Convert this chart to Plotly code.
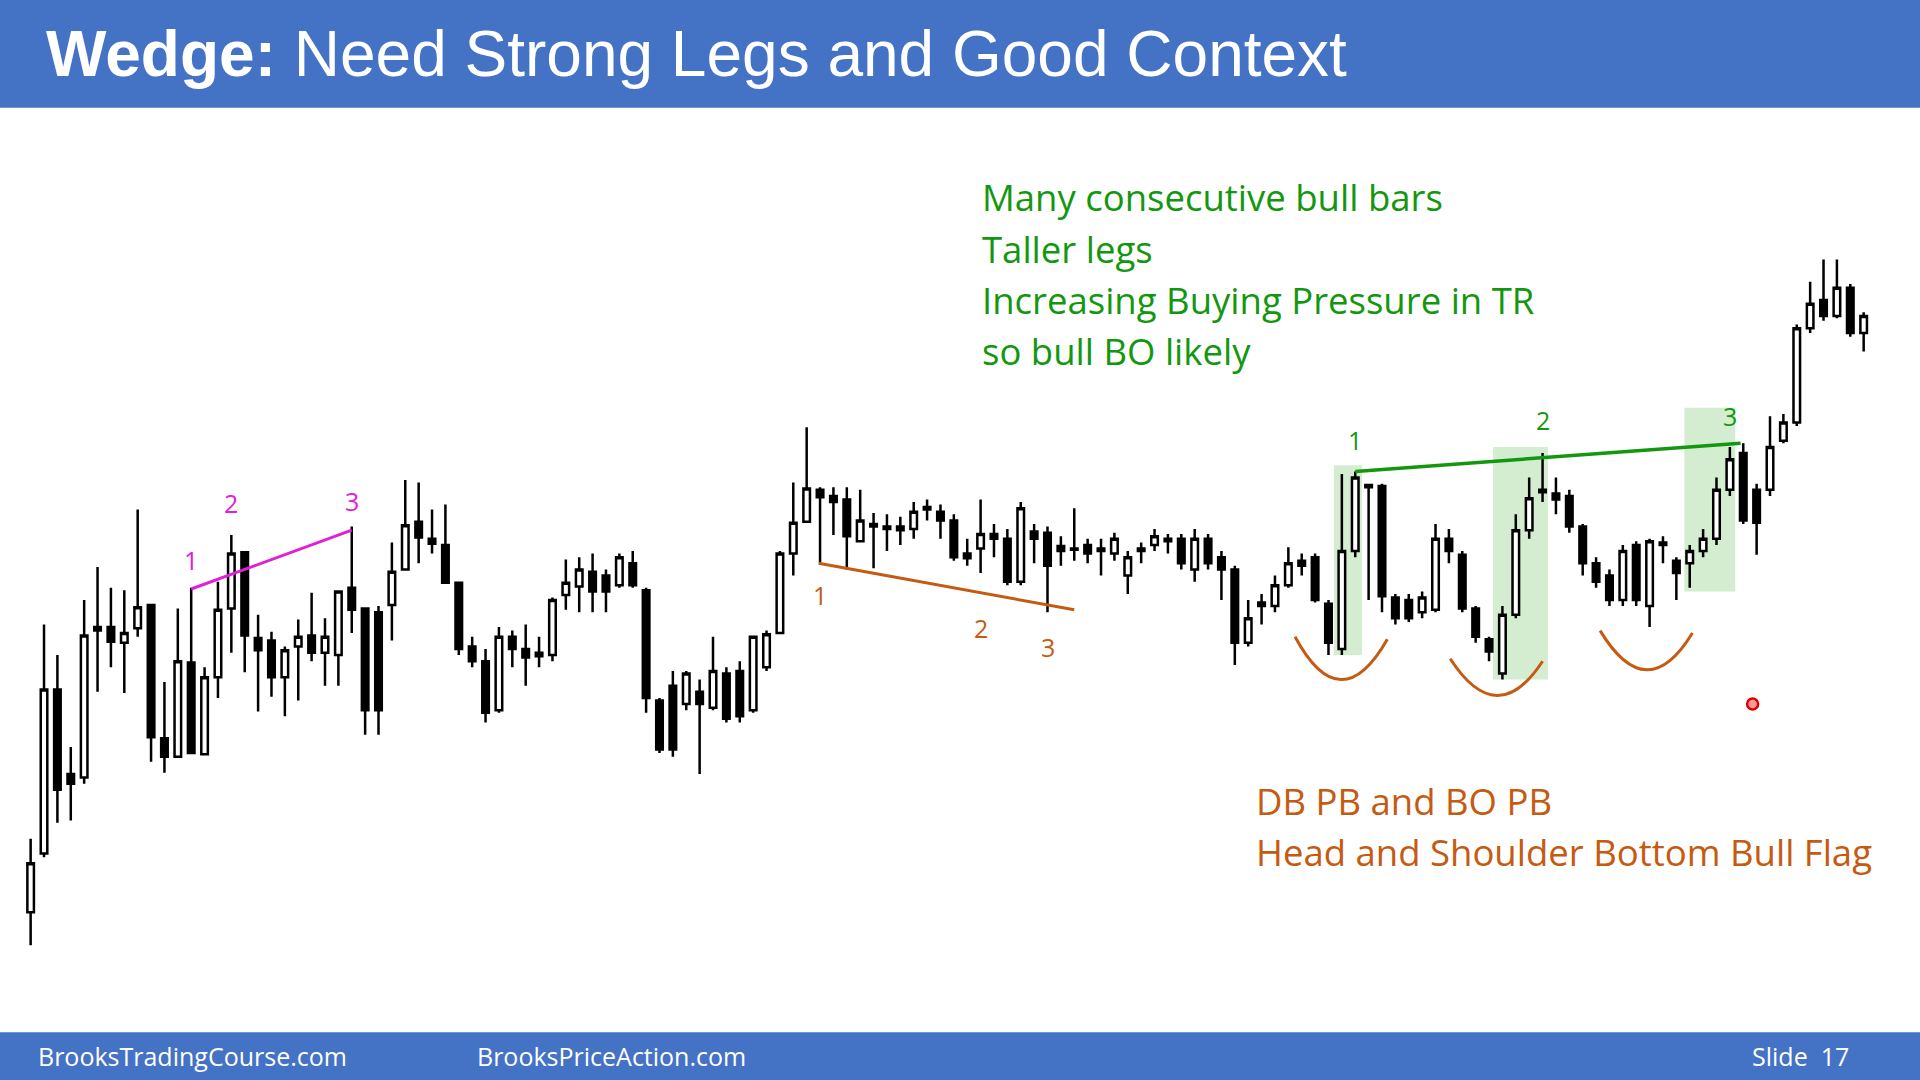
import plotly.graph_objects as go

# bar prices (arbitrary price units)
opens = [55, 103, 237, 168, 165, 285, 288, 275, 287, 306, 197, 182, 259, 184, 247, 303, 349, 279, 277, 247,
         272, 281, 267, 265, 320, 303, 300, 306, 335, 374, 360, 355, 324, 272, 260, 220, 280, 270, 267, 265,
         314, 321, 333, 330, 322, 340, 318, 228, 240, 225, 235, 222, 250, 252, 220, 255, 283, 348, 374, 400,
         395, 392, 358, 372, 370, 370, 368, 386, 382, 375, 348, 352, 364, 360, 325, 366, 365, 354, 352, 355,
         352, 348, 330, 352, 355, 360, 360, 335, 360, 345, 335, 275, 308, 305, 322, 342, 345, 307, 270, 350,
         404, 403, 312, 310, 300, 302, 360, 347, 303, 278, 250, 298, 367, 398, 397, 395, 370, 340, 330, 310,
         355, 305, 357, 342, 340, 350, 360, 400, 430, 400, 400, 440, 455, 532, 555, 542, 565, 528]
closes = [95, 237, 155, 160, 281, 288, 276, 283, 304, 198, 182, 260, 185, 247, 302, 348, 281, 269, 247, 269,
          280, 267, 280, 317, 302, 220, 220, 333, 371, 361, 356, 324, 270, 260, 218, 280, 270, 263, 264, 310,
          324, 335, 317, 317, 345, 322, 230, 188, 188, 250, 225, 252, 213, 215, 280, 282, 348, 373, 401, 394,
          390, 362, 375, 370, 368, 367, 382, 384, 375, 345, 344, 364, 360, 325, 385, 360, 338, 350, 351, 348,
          350, 360, 345, 350, 362, 358, 340, 360, 340, 335, 275, 295, 305, 322, 340, 338, 310, 275, 350, 410,
          402, 313, 295, 295, 312, 360, 350, 303, 280, 268, 298, 367, 393, 400, 392, 370, 340, 325, 310, 350,
          310, 358, 355, 332, 350, 360, 400, 425, 375, 373, 435, 455, 532, 552, 542, 565, 528, 542]
highs = [115, 290, 265, 190, 310, 337, 320, 318, 384, 306, 243, 303, 320, 255, 325, 363, 349, 298, 284, 272,
         294, 316, 295, 317, 370, 303, 305, 357, 408, 406, 384, 388, 324, 280, 270, 288, 285, 290, 280, 312,
         343, 345, 348, 335, 348, 350, 320, 230, 252, 252, 245, 280, 255, 260, 280, 285, 350, 406, 451, 402,
         402, 402, 400, 381, 380, 378, 390, 392, 388, 380, 360, 392, 372, 368, 390, 372, 370, 362, 385, 360,
         360, 365, 350, 357, 368, 364, 364, 368, 364, 350, 338, 310, 315, 330, 353, 348, 348, 310, 413, 415,
         405, 405, 315, 315, 317, 372, 368, 350, 305, 280, 305, 380, 410, 430, 410, 400, 372, 345, 335, 355,
         358, 360, 362, 345, 355, 368, 410, 435, 438, 405, 460, 462, 535, 570, 588, 588, 568, 545]
lows = [28, 100, 128, 130, 160, 235, 255, 234, 280, 178, 169, 182, 185, 184, 230, 267, 251, 219, 231, 215,
        228, 260, 240, 240, 283, 200, 200, 277, 335, 340, 348, 324, 265, 255, 210, 218, 255, 240, 255, 260,
        302, 300, 300, 300, 320, 320, 218, 185, 182, 220, 168, 220, 210, 210, 218, 252, 282, 330, 374, 340,
        363, 335, 358, 336, 350, 355, 360, 375, 360, 342, 338, 332, 345, 322, 322, 340, 300, 338, 342, 340,
        330, 342, 315, 340, 350, 348, 335, 325, 335, 310, 257, 272, 290, 300, 320, 330, 308, 265, 265, 345,
        310, 300, 290, 292, 295, 300, 340, 300, 275, 260, 245, 295, 360, 390, 380, 365, 330, 320, 305, 305,
        305, 288, 340, 310, 320, 345, 355, 395, 372, 347, 395, 438, 452, 528, 538, 540, 525, 513]
bar_idx = list(range(len(opens)))

green_text = ["Many consecutive bull bars", "Taller legs",
              "Increasing Buying Pressure in TR", "so bull BO likely"]
orange_text = ["DB PB and BO PB", "Head and Shoulder Bottom Bull Flag"]

W, H = 1568, 882  # slide coordinates used for the overlay text
GREEN = "#13970f"
ORANGE = "#c55a11"
MAGENTA = "#e020d8"
BLUE = "#4472c4"

fig = go.Figure()
fig.add_trace(go.Candlestick(
    x=bar_idx, open=opens, high=highs, low=lows, close=closes,
    increasing=dict(fillcolor="white", line=dict(color="black", width=2.5)),
    decreasing=dict(fillcolor="black", line=dict(color="black", width=2.5)),
    whiskerwidth=0, showlegend=False, hoverinfo="skip",
))

# green highlight zones behind the bull legs
for x0, x1, y0, y1 in [(97.4, 99.5, 265, 420), (109.3, 113.4, 245, 435), (123.6, 127.4, 317, 467)]:
    fig.add_shape(type="rect", x0=x0, x1=x1, y0=y0, y1=y1, fillcolor="rgba(120,200,110,0.32)",
                  line_width=0, layer="below")

# wedge lines
fig.add_shape(type="line", x0=12, y0=319, x1=24, y1=367, line=dict(color=MAGENTA, width=3))
fig.add_shape(type="line", x0=58.9, y0=340, x1=78.0, y1=302, line=dict(color=ORANGE, width=3))
fig.add_shape(type="line", x0=99, y0=415, x1=127.8, y1=438, line=dict(color=GREEN, width=3.5))

# smile arcs under the bottoms
for a, c, b, ya, yc, yb in [(94.5, 97.9, 101.4, 280, 211, 278), (106.1, 109.6, 113.0, 262, 203, 260),
                            (117.3, 120.8, 124.2, 285, 222, 283)]:
    fig.add_shape(type="path", path=f"M {a},{ya} Q {c},{yc} {b},{yb}",
                  line=dict(color=ORANGE, width=3))

labels = [(12, 343, "1", MAGENTA), (15, 389, "2", MAGENTA), (24, 391, "3", MAGENTA),
          (59, 314, "1", ORANGE), (71, 287, "2", ORANGE), (76, 272, "3", ORANGE),
          (99, 441, "1", GREEN), (113, 457, "2", GREEN), (127, 460, "3", GREEN)]
for x, y, t, c in labels:
    fig.add_annotation(x=x, y=y, text=t, showarrow=False, font=dict(size=25, color=c, family="Open Sans"))

# cursor dot
fig.add_trace(go.Scatter(x=[128.7], y=[225], mode="markers", showlegend=False, hoverinfo="skip",
                         marker=dict(size=11, color="#ff9999", line=dict(color="#e00000", width=2.5))))

# header and footer bars
fig.add_shape(type="rect", xref="paper", yref="paper", x0=0, x1=1, y0=1 - 88 / H, y1=1,
              fillcolor=BLUE, line_width=0)
fig.add_shape(type="rect", xref="paper", yref="paper", x0=0, x1=1, y0=0, y1=1 - 843 / H,
              fillcolor=BLUE, line_width=0)

fig.add_annotation(xref="paper", yref="paper", x=36 / W, y=1 - 44 / H, xanchor="left", yanchor="middle",
                   text="<b>Wedge:</b> Need Strong Legs and Good Context", showarrow=False,
                   font=dict(size=64, color="white", family="Liberation Sans"))
for t, x in [("BrooksTradingCourse.com", 29), ("BrooksPriceAction.com", 388)]:
    fig.add_annotation(xref="paper", yref="paper", x=x / W, y=1 - 862 / H, xanchor="left", yanchor="middle",
                       text=t, showarrow=False, font=dict(size=25, color="white", family="Open Sans"))
fig.add_annotation(xref="paper", yref="paper", x=1512 / W, y=1 - 862 / H, xanchor="right", yanchor="middle",
                   text="Slide  17", showarrow=False, font=dict(size=25, color="white", family="Open Sans"))

for i, t in enumerate(green_text):
    fig.add_annotation(xref="paper", yref="paper", x=800 / W, y=1 - (161 + 42 * i) / H, xanchor="left",
                       yanchor="middle", text=t, showarrow=False,
                       font=dict(size=36.5, color=GREEN, family="Open Sans"))
for i, t in enumerate(orange_text):
    fig.add_annotation(xref="paper", yref="paper", x=1024 / W, y=1 - (654 + 42 * i) / H, xanchor="left",
                       yanchor="middle", text=t, showarrow=False,
                       font=dict(size=36.5, color=ORANGE, family="Open Sans"))

fig.update_xaxes(range=[-2.29, 141.21], visible=False, rangeslider=dict(visible=False), fixedrange=True)
fig.update_yaxes(range=[-82, 800], visible=False, fixedrange=True)
fig.update_layout(
    width=1920, height=1080,
    margin=dict(l=0, r=0, t=0, b=0),
    paper_bgcolor="white", plot_bgcolor="white",
    showlegend=False,
)
fig.write_html("out.html", config={"displayModeBar": False},
               post_script="document.body.style.margin='0';")
